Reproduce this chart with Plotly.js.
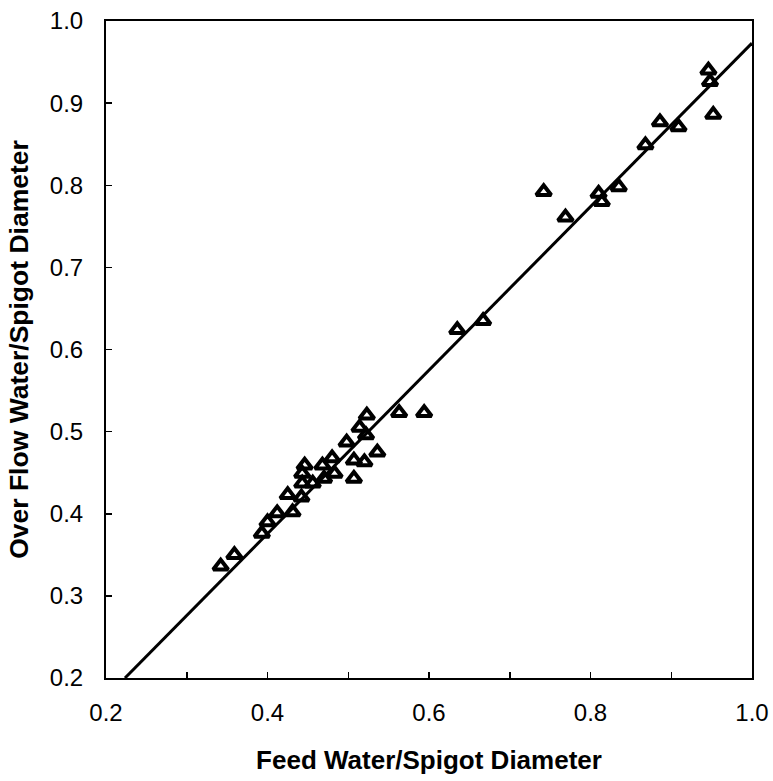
<!DOCTYPE html>
<html>
<head>
<meta charset="utf-8">
<script src="https://cdn.plot.ly/plotly-3.0.1.min.js"></script>
<style>html,body{margin:0;padding:0;background:#fff;}#chart{width:773px;height:781px;}</style>
</head>
<body>
<div id="chart"></div>
<script>
// Feed water / spigot diameter (x) vs over flow water / spigot diameter (y)
var feedRatio = [0.342, 0.359, 0.393, 0.400, 0.412, 0.425, 0.431, 0.442, 0.443, 0.446,
                 0.443, 0.456, 0.468, 0.470, 0.480, 0.483, 0.498, 0.514, 0.522, 0.523,
                 0.507, 0.520, 0.536, 0.507, 0.563, 0.594, 0.635, 0.667, 0.742, 0.769,
                 0.810, 0.814, 0.835, 0.868, 0.886, 0.909, 0.946, 0.948, 0.952];
var overflowRatio = [0.336, 0.350, 0.376, 0.390, 0.401, 0.423, 0.402, 0.420, 0.437, 0.459,
                     0.449, 0.437, 0.459, 0.443, 0.468, 0.449, 0.487, 0.505, 0.496, 0.520,
                     0.465, 0.463, 0.475, 0.443, 0.523, 0.523, 0.624, 0.635, 0.792, 0.761,
                     0.790, 0.780, 0.798, 0.849, 0.877, 0.871, 0.940, 0.926, 0.886];
// Fitted line: y = slope * x + intercept
var fitSlope = 0.9955;
var fitIntercept = -0.0225;
var fitRangeX = [0.2235, 1.0];
var fitX = fitRangeX;
var fitY = fitX.map(function (x) { return fitSlope * x + fitIntercept; });

var xTickVals = [0.2, 0.4, 0.6, 0.8, 1.0];
var xTickText = ['0.2', '0.4', '0.6', '0.8', '1.0'];
var yTickVals = [0.2, 0.3, 0.4, 0.5, 0.6, 0.7, 0.8, 0.9, 1.0];
var yTickText = ['0.2', '0.3', '0.4', '0.5', '0.6', '0.7', '0.8', '0.9', '1.0'];

var font = 'Liberation Sans, Arial, sans-serif';

var traces = [
  {
    x: fitX, y: fitY, mode: 'lines', type: 'scatter',
    line: {color: '#000', width: 3}, hoverinfo: 'skip', showlegend: false
  },
  {
    x: feedRatio, y: overflowRatio, mode: 'markers', type: 'scatter',
    marker: {symbol: 'triangle-up-open', size: 13, color: '#000', line: {color: '#000', width: 4}},
    showlegend: false
  }
];

var layout = {
  width: 773, height: 781,
  margin: {l: 106, r: 21, t: 21, b: 103},
  paper_bgcolor: '#fff', plot_bgcolor: '#fff',
  showlegend: false,
  font: {family: font, color: '#000'},
  xaxis: {
    range: [0.2, 1.0], tickmode: 'array', tickvals: xTickVals, ticktext: xTickText,
    ticks: 'inside', ticklen: 6, tickwidth: 1.5, tickcolor: '#000',
    minor: {dtick: 0.1, tick0: 0.2, ticks: 'inside', ticklen: 6, tickwidth: 1.5, tickcolor: '#000', showgrid: false},
    showgrid: false, zeroline: false,
    showline: true, linecolor: '#000', linewidth: 2, mirror: true,
    tickfont: {family: font, size: 24, color: '#000'},
    ticklabelstandoff: 12,
    title: {text: '<b>Feed Water/Spigot Diameter</b>', font: {family: font, size: 26, color: '#000'}, standoff: 26}
  },
  yaxis: {
    range: [0.2, 1.0], tickmode: 'array', tickvals: yTickVals, ticktext: yTickText,
    ticks: 'inside', ticklen: 6, tickwidth: 1.5, tickcolor: '#000',
    showgrid: false, zeroline: false,
    showline: true, linecolor: '#000', linewidth: 2, mirror: true,
    tickfont: {family: font, size: 24, color: '#000'},
    ticklabelstandoff: 16,
    title: {text: '<b>Over Flow Water/Spigot Diameter</b>', font: {family: font, size: 26.5, color: '#000'}, standoff: 14}
  }
};

Plotly.newPlot('chart', traces, layout, {displayModeBar: false, staticPlot: true});
</script>
</body>
</html>
